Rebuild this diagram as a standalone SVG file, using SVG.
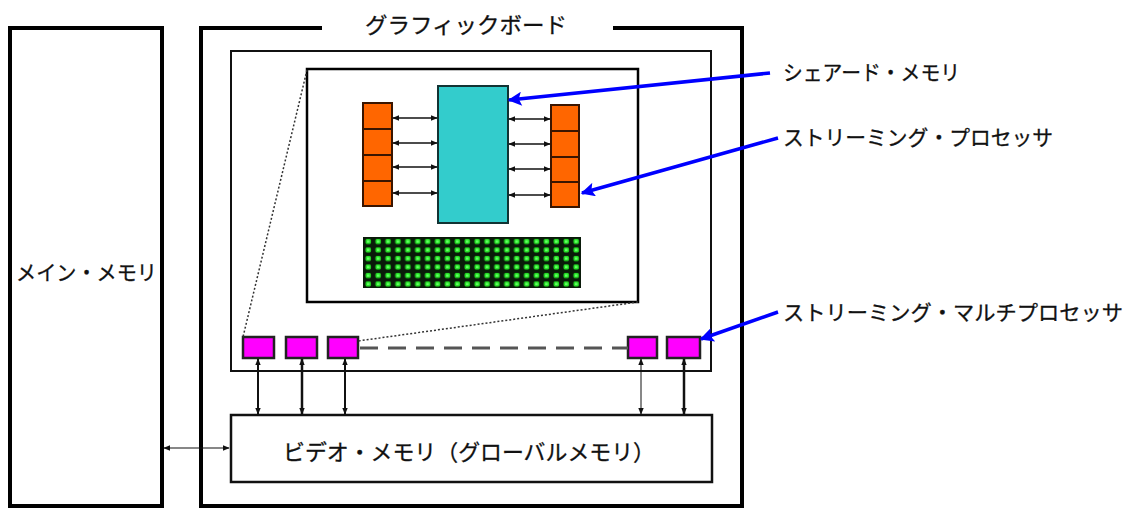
<svg xmlns="http://www.w3.org/2000/svg" width="1137" height="510" viewBox="0 0 1137 510">
<style>
.t{font-family:"Noto Sans CJK JP","Noto Sans CJK SC",sans-serif;fill:#111;stroke:#111;stroke-width:0.3;}
.frame{fill:none;stroke:#000;stroke-width:4;}
.thin{fill:#fff;stroke:#111;stroke-width:2;}
.or{fill:#FF6600;stroke:#3a1500;stroke-width:2;}
.sm{fill:#FF00FF;stroke:#222;stroke-width:2.5;}
.ar{stroke:#111;fill:none;marker-start:url(#ah);marker-end:url(#ah);}
.blue{stroke:#0000FF;stroke-width:3.5;fill:none;marker-end:url(#bh);}
</style>
<defs>
<marker id="ah" viewBox="0 0 10 10" refX="9" refY="5" markerWidth="7" markerHeight="7" markerUnits="userSpaceOnUse" orient="auto-start-reverse"><path d="M0,1 L10,5 L0,9 Z" fill="#111"/></marker>
<marker id="bh" viewBox="0 0 10 10" refX="9" refY="5" markerWidth="16" markerHeight="14" markerUnits="userSpaceOnUse" orient="auto"><path d="M0,0 L10,5 L0,10 L2,5 Z" fill="#0000FF"/></marker>
<pattern id="grid" patternUnits="userSpaceOnUse" x="363" y="237" width="9.9" height="8.5"><rect x="2.5" y="2" width="5.5" height="5" rx="1.5" fill="#22DD22"/><rect x="4" y="3.3" width="2.5" height="2.4" fill="#66FF66"/></pattern>
</defs>

<g id="main-memory">
<rect class="frame" x="10" y="28" width="152" height="478"/>
<text class="t" x="16" y="280" font-size="21" textLength="141" lengthAdjust="spacingAndGlyphs">メイン・メモリ</text>
</g>

<g id="graphics-board">
<path class="frame" d="M322,28 L201,28 L201,506 L742,506 L742,28 L613,28"/>
<text class="t" x="365" y="33" font-size="22" textLength="202" lengthAdjust="spacingAndGlyphs">グラフィックボード</text>
</g>

<g id="sm-area">
<rect class="thin" x="231" y="51" width="480" height="320"/>
</g>

<g id="sm-detail">
<rect x="307" y="69" width="331" height="233" fill="#fff" stroke="#000" stroke-width="2.5"/>
</g>

<g id="shared-memory-block">
<rect x="438" y="86" width="70" height="137" fill="#33CCCC" stroke="#113333" stroke-width="2"/>
</g>

<g id="sp-left">
<rect class="or" x="363" y="103" width="29" height="26"/>
<rect class="or" x="363" y="129" width="29" height="26"/>
<rect class="or" x="363" y="155" width="29" height="26"/>
<rect class="or" x="363" y="181" width="29" height="25"/>
</g>

<g id="sp-right">
<rect class="or" x="551" y="105" width="28" height="26"/>
<rect class="or" x="551" y="131" width="28" height="26"/>
<rect class="or" x="551" y="157" width="28" height="25"/>
<rect class="or" x="551" y="182" width="28" height="25"/>
</g>

<g id="grid-block">
<rect x="363" y="237" width="218" height="51" fill="#0a1a0a"/>
<rect x="363" y="237" width="218" height="51" fill="url(#grid)"/>
</g>

<g id="sm1"><rect class="sm" x="243" y="337" width="31" height="21"/></g>
<g id="sm2"><rect class="sm" x="286" y="337" width="31" height="21"/></g>
<g id="sm3"><rect class="sm" x="328" y="337" width="30" height="21"/></g>
<g id="sm4"><rect class="sm" x="628" y="337" width="29" height="21"/></g>
<g id="sm5"><rect class="sm" x="667" y="337" width="33" height="21"/></g>

<g id="video-memory">
<rect x="231" y="415" width="481" height="67" fill="#fff" stroke="#111" stroke-width="2.5"/>
<text class="t" x="283" y="460" font-size="22" textLength="372" lengthAdjust="spacingAndGlyphs">ビデオ・メモリ（グローバルメモリ）</text>
</g>

<g id="labels">
<text class="t" x="783" y="80" font-size="21" textLength="177" lengthAdjust="spacingAndGlyphs">シェアード・メモリ</text>
<text class="t" x="783" y="145" font-size="21" textLength="270" lengthAdjust="spacingAndGlyphs">ストリーミング・プロセッサ</text>
<text class="t" x="783" y="320" font-size="21" textLength="340" lengthAdjust="spacingAndGlyphs">ストリーミング・マルチプロセッサ</text>
</g>

<g id="connectors">
<line x1="307" y1="70" x2="243" y2="337" stroke="#333" stroke-width="1.5" stroke-dasharray="2,2"/>
<line x1="638" y1="302" x2="358" y2="341" stroke="#333" stroke-width="1.5" stroke-dasharray="2,2"/>
<line x1="360" y1="348" x2="628" y2="348" stroke="#555" stroke-width="3" stroke-dasharray="18,10"/>

<line class="ar" x1="393" y1="118" x2="437" y2="118" stroke-width="1.5"/>
<line class="ar" x1="393" y1="143" x2="437" y2="143" stroke-width="1.5"/>
<line class="ar" x1="393" y1="167" x2="437" y2="167" stroke-width="1.5"/>
<line class="ar" x1="393" y1="193" x2="437" y2="193" stroke-width="1.5"/>
<line class="ar" x1="509" y1="119" x2="550" y2="119" stroke-width="1.5"/>
<line class="ar" x1="509" y1="144" x2="550" y2="144" stroke-width="1.5"/>
<line class="ar" x1="509" y1="169" x2="550" y2="169" stroke-width="1.5"/>
<line class="ar" x1="509" y1="195" x2="550" y2="195" stroke-width="1.5"/>

<line class="ar" x1="258" y1="359" x2="258" y2="414" stroke-width="2"/>
<line class="ar" x1="302" y1="359" x2="302" y2="414" stroke-width="2.5"/>
<line class="ar" x1="345" y1="359" x2="345" y2="414" stroke-width="2"/>
<line class="ar" x1="641" y1="359" x2="641" y2="414" stroke-width="1"/>
<line class="ar" x1="684" y1="359" x2="684" y2="414" stroke-width="2.5"/>

<line class="ar" x1="164" y1="448" x2="229" y2="448" stroke-width="1.2"/>

<line class="blue" x1="770" y1="73" x2="509" y2="100"/>
<line class="blue" x1="778" y1="138" x2="582" y2="193"/>
<line class="blue" x1="778" y1="312" x2="701" y2="339"/>
</g>
</svg>
